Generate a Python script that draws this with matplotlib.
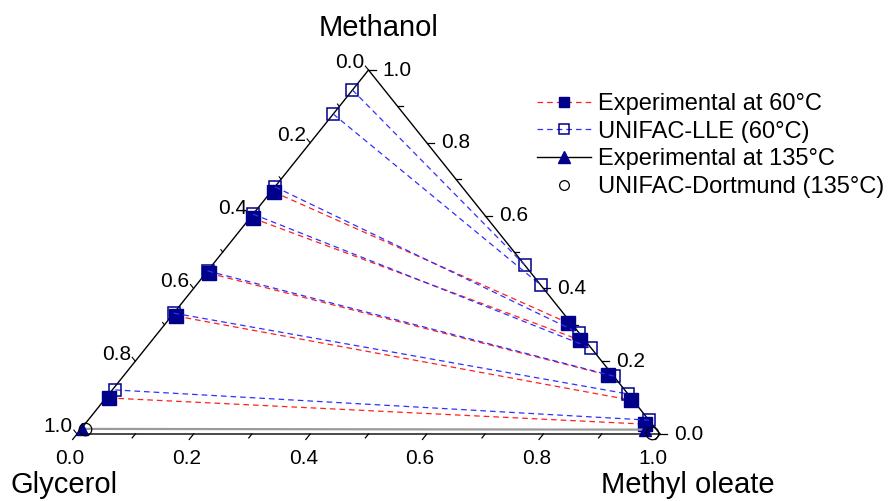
import numpy as np
import matplotlib.pyplot as plt
from matplotlib.lines import Line2D

plt.rcParams['font.family'] = ['Liberation Sans', 'DejaVu Sans']

# tie lines, mass fractions. glycerol-rich phase: methanol + methyl oleate,
# ester-rich phase: methanol + glycerol (the third component is the remainder)
exp60_gly_meoh = [0.665, 0.593, 0.442, 0.324, 0.099]
exp60_gly_mo = [0.005, 0.005, 0.005, 0.008, 0.005]
exp60_est_meoh = [0.305, 0.258, 0.162, 0.093, 0.027]
exp60_est_gly = [0.005, 0.008, 0.009, 0.003, 0.012]

lle60_gly_meoh = [0.945, 0.879, 0.679, 0.604, 0.448, 0.332, 0.121]
lle60_gly_mo = [0.0, 0.0, 0.0, 0.0, 0.0, 0.0, 0.005]
lle60_est_meoh = [0.464, 0.409, 0.277, 0.236, 0.159, 0.110, 0.038]
lle60_est_gly = [0.0, 0.0, 0.0, 0.0, 0.0, 0.0, 0.0]

exp135_gly_meoh = [0.014]
exp135_gly_mo = [0.002]
exp135_est_meoh = [0.012]
exp135_est_gly = [0.019]

dort135_gly_meoh = [0.014]
dort135_gly_mo = [0.007]
dort135_est_meoh = [0.003]
dort135_est_gly = [0.012]

ticks = np.round(np.arange(0, 1.01, 0.1), 1)
major = [0.0, 0.2, 0.4, 0.6, 0.8, 1.0]

NAVY = '#00008B'
W, H = 891, 501
X0, SX = 77, 583       # pixel position of glycerol corner and base width
Y0, SY = 67, 364       # base height from bottom of figure and triangle height


def tern(mo, meoh):
    mo = np.asarray(mo, float)
    meoh = np.asarray(meoh, float)
    return mo + meoh / 2, meoh


def px_vec(dx, dy):
    # pixel offset (y up) -> data offset
    return dx / SX, dy / SY


fig = plt.figure(figsize=(W / 100, H / 100), dpi=100)
ax = fig.add_axes([0, 0, 1, 1])
ax.set_xlim(-X0 / SX, (W - X0) / SX)
ax.set_ylim(-Y0 / SY, (H - Y0) / SY)
ax.axis('off')

# triangle frame
A, B, C = (0, 0), (1, 0), (0.5, 1)
ax.plot([A[0], B[0], C[0], A[0]], [A[1], B[1], C[1], A[1]], color='black', lw=1.0, zorder=2)

down_left = np.array([-0.5 * SX, -SY])
down_left = down_left / np.hypot(*down_left)   # along left edge, towards glycerol
up_left = down_left * [1, -1]                  # along right edge, towards methanol

for t in ticks:
    big = t in major
    L = 7 if big else 5
    # bottom axis (methyl oleate): ticks parallel to left edge, pointing down
    bx, by = tern(t, 0)
    dx, dy = px_vec(*(down_left * L))
    ax.plot([bx, bx + dx], [by, by + dy], color='black', lw=0.9)
    # right axis (methanol): horizontal ticks to the right
    rx, ry = tern(1 - t, t)
    dx, dy = px_vec(L, 0)
    ax.plot([rx, rx + dx], [ry, ry + dy], color='black', lw=0.9)
    # left axis (glycerol): short ticks parallel to right edge, pointing up
    lx, ly = tern(0, 1 - t)
    dx, dy = px_vec(*(up_left * (L - 2)))
    ax.plot([lx, lx + dx], [ly, ly + dy], color='black', lw=0.8)
    if big:
        lab = f'{t:.1f}'
        ax.annotate(lab, (bx, by), xytext=(-7, -25), textcoords='offset pixels',
                    ha='center', va='center', fontsize=15)
        ax.annotate(lab, (rx, ry), xytext=(14, 0), textcoords='offset pixels',
                    ha='left', va='center', fontsize=15)
        ax.annotate(lab, (lx, ly), xytext=(-19, 7), textcoords='offset pixels',
                    ha='center', va='center', fontsize=15)

# axis titles
ax.annotate('Methanol', C, xytext=(10, 42), textcoords='offset pixels',
            ha='center', va='center', fontsize=21)
ax.annotate('Glycerol', A, xytext=(-13, -51), textcoords='offset pixels',
            ha='center', va='center', fontsize=21)
ax.annotate('Methyl oleate', B, xytext=(28, -51), textcoords='offset pixels',
            ha='center', va='center', fontsize=21)


def tie_lines(gly_meoh, gly_mo, est_meoh, est_gly, **kw):
    gx, gy = tern(gly_mo, gly_meoh)
    est_meoh = np.asarray(est_meoh, float)
    ex, ey = tern(1 - np.asarray(est_gly, float) - est_meoh, est_meoh)
    for i in range(len(gx)):
        ax.plot([gx[i], ex[i]], [gy[i], ey[i]], **kw)


tie_lines(exp60_gly_meoh, exp60_gly_mo, exp60_est_meoh, exp60_est_gly,
          color='#ff2020', lw=0.9, dashes=(4.5, 3.2), marker='s', ms=9.5,
          mfc=NAVY, mec=NAVY, zorder=3)
tie_lines(lle60_gly_meoh, lle60_gly_mo, lle60_est_meoh, lle60_est_gly,
          color='#3030ff', lw=0.9, dashes=(4.5, 3.2), marker='s', ms=9,
          mfc='none', mec=NAVY, mew=1.1, zorder=4)
tie_lines(exp135_gly_meoh, exp135_gly_mo, exp135_est_meoh, exp135_est_gly,
          color='#9a9a9a', lw=1.6, ls='-', marker='^', ms=9,
          mfc=NAVY, mec=NAVY, zorder=3)
tie_lines(dort135_gly_meoh, dort135_gly_mo, dort135_est_meoh, dort135_est_gly,
          ls='none', marker='o', ms=9, mfc='none', mec='black', mew=0.9, zorder=5)

handles = [
    Line2D([], [], color='#ff2020', lw=0.9, dashes=(4.5, 3.2), marker='s', ms=7.5,
           mfc=NAVY, mec=NAVY),
    Line2D([], [], color='#3030ff', lw=0.9, dashes=(4.5, 3.2), marker='s', ms=7,
           mfc='none', mec=NAVY, mew=1.1),
    Line2D([], [], color='black', lw=1.0, marker='^', ms=8, mfc=NAVY, mec=NAVY),
    Line2D([], [], ls='none', marker='o', ms=7, mfc='none', mec='black', mew=0.9),
]
labels = ['Experimental at 60°C', 'UNIFAC-LLE (60°C)',
          'Experimental at 135°C', 'UNIFAC-Dortmund (135°C)']
ax.legend(handles, labels, loc='upper left', bbox_to_anchor=(537 / W, 1 - 93 / H),
          frameon=False, fontsize=17, handlelength=2.3, handletextpad=0.3,
          labelspacing=0.24, borderpad=0, borderaxespad=0)

fig.savefig('out.png', dpi=100)
